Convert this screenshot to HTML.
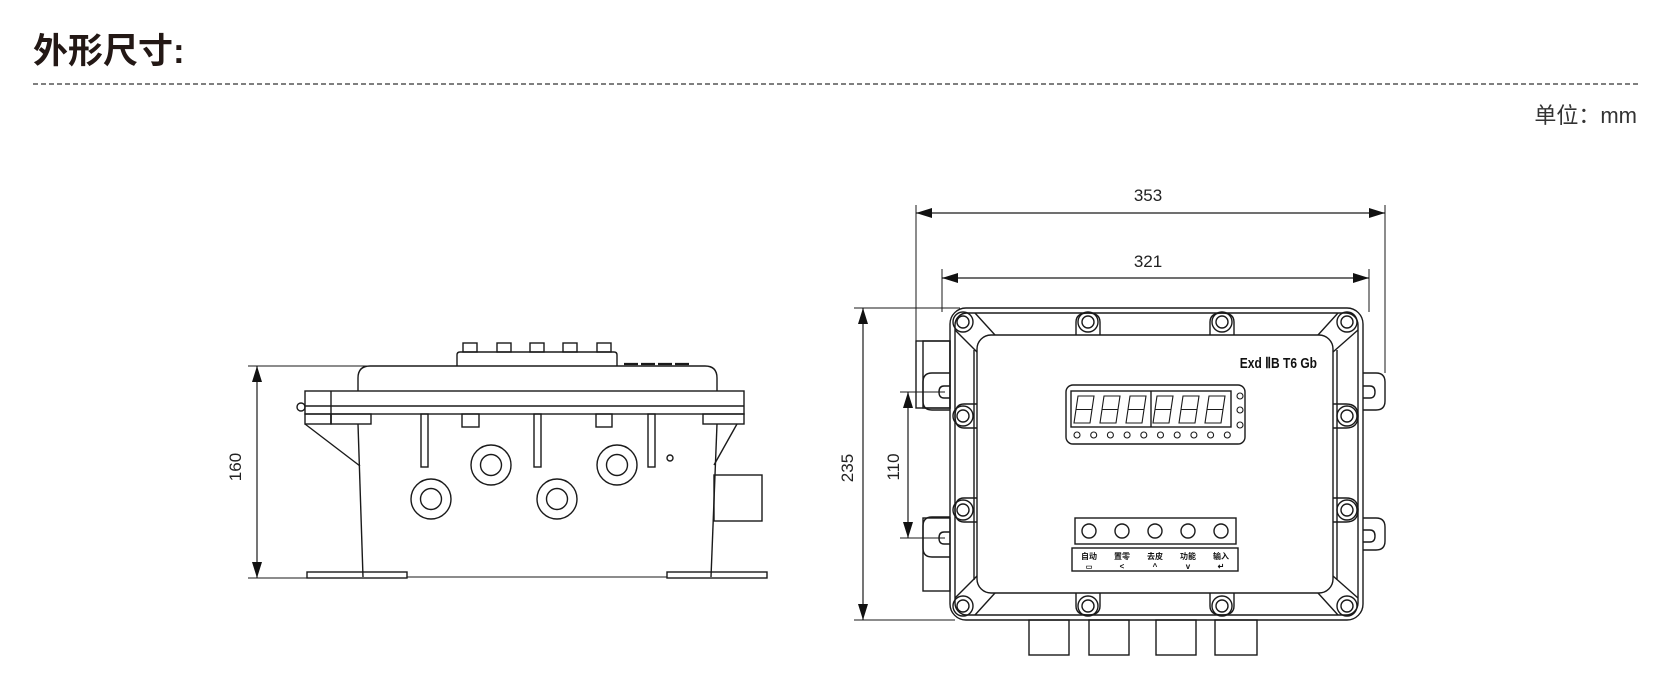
<!DOCTYPE html>
<html><head><meta charset="utf-8"><style>
html,body{margin:0;padding:0;background:#fff;}
svg{display:block;}
</style></head><body>
<svg width="1674" height="675" viewBox="0 0 1674 675" xmlns="http://www.w3.org/2000/svg">
<defs>
<marker id="ar" viewBox="0 0 16 10" refX="16" refY="5" markerWidth="16" markerHeight="10" markerUnits="userSpaceOnUse" orient="auto-start-reverse"><path d="M0,0 L16,5 L0,10 z" fill="#111"/></marker>
</defs>
<text x="33" y="63" font-family="'Liberation Sans','Noto Sans CJK SC',sans-serif" font-size="35" font-weight="bold" fill="#231815">外形尺寸:</text>
<line x1="33" y1="84" x2="1638" y2="84" stroke="#333" stroke-width="1.2" stroke-dasharray="5,3"/>
<text x="1637" y="123" text-anchor="end" font-family="'Liberation Sans','Noto Sans CJK SC',sans-serif" font-size="22" fill="#333">单位：mm</text>

<g fill="none" stroke="#1a1a1a" stroke-width="1.4">
<!-- side view dim 160 -->
<line x1="248" y1="366" x2="367" y2="366" stroke-width="1"/>
<line x1="248" y1="578" x2="307" y2="578" stroke-width="1"/>
<line x1="257" y1="366" x2="257" y2="578" stroke-width="1.2" marker-start="url(#ar)" marker-end="url(#ar)"/>
<!-- buttons -->
<rect x="463" y="343" width="14" height="9"/><rect x="497" y="343" width="14" height="9"/><rect x="530" y="343" width="14" height="9"/><rect x="563" y="343" width="14" height="9"/><rect x="597" y="343" width="14" height="9"/>
<path d="M457,366 V355 Q457,352 460,352 H614 Q617,352 617,355 V366"/>
<line x1="624" y1="364" x2="690" y2="364" stroke-width="2.2" stroke-dasharray="14,3"/>
<!-- lid -->
<path d="M358,391 V378 Q358,366 370,366 H705 Q717,366 717,378 V391"/>
<!-- flange -->
<rect x="305" y="391" width="439" height="23"/>
<line x1="305" y1="406" x2="744" y2="406"/>
<line x1="331" y1="391" x2="331" y2="424"/>
<rect x="305" y="414" width="26" height="10"/>
<rect x="331" y="414" width="40" height="10"/>
<rect x="703" y="414" width="41" height="10"/>
<circle cx="301" cy="407" r="4"/>
<line x1="305" y1="424" x2="360" y2="466"/>
<line x1="737" y1="424" x2="714" y2="465"/>
<line x1="358" y1="424" x2="363" y2="577"/>
<line x1="717" y1="424" x2="711" y2="577"/>
<rect x="421" y="414" width="7" height="53"/><rect x="534" y="414" width="7" height="53"/><rect x="648" y="414" width="7" height="53"/>
<rect x="462" y="414" width="17" height="13"/><rect x="596" y="414" width="16" height="13"/>
<circle cx="491" cy="465" r="20"/><circle cx="491" cy="465" r="10.5"/>
<circle cx="617" cy="465" r="20"/><circle cx="617" cy="465" r="10.5"/>
<circle cx="431" cy="499" r="20"/><circle cx="431" cy="499" r="10.5"/>
<circle cx="557" cy="499" r="20"/><circle cx="557" cy="499" r="10.5"/>
<circle cx="670" cy="458" r="3"/>
<rect x="714" y="475" width="48" height="46"/>
<rect x="307" y="572" width="100" height="6"/>
<rect x="667" y="572" width="100" height="6"/>
<line x1="407" y1="577" x2="667" y2="577" stroke-width="1"/>

<!-- front view dims -->
<line x1="916" y1="205" x2="916" y2="341" stroke-width="1"/>
<line x1="1385" y1="205" x2="1385" y2="373" stroke-width="1"/>
<line x1="916" y1="213" x2="1385" y2="213" stroke-width="1.2" marker-start="url(#ar)" marker-end="url(#ar)"/>
<line x1="942" y1="269" x2="942" y2="312" stroke-width="1"/>
<line x1="1369" y1="269" x2="1369" y2="312" stroke-width="1"/>
<line x1="942" y1="278" x2="1369" y2="278" stroke-width="1.2" marker-start="url(#ar)" marker-end="url(#ar)"/>
<line x1="854" y1="308" x2="960" y2="308" stroke-width="1"/>
<line x1="854" y1="620" x2="955" y2="620" stroke-width="1"/>
<line x1="863" y1="308" x2="863" y2="620" stroke-width="1.2" marker-start="url(#ar)" marker-end="url(#ar)"/>
<line x1="900" y1="392" x2="945" y2="392" stroke-width="1"/>
<line x1="900" y1="538" x2="945" y2="538" stroke-width="1"/>
<line x1="908" y1="392" x2="908" y2="538" stroke-width="1.2" marker-start="url(#ar)" marker-end="url(#ar)"/>

<!-- left gland box and ears -->
<rect x="916" y="341" width="34" height="67"/>
<rect x="923" y="341" width="27" height="67"/>
<rect x="923" y="518" width="27" height="73"/>
<path d="M950,373 H932 Q923,373 923,382 V401 Q923,410 932,410 H950"/>
<path d="M950,386 H944 Q939,386 939,392 Q939,398 944,398 H950"/>
<path d="M950,517 H932 Q923,517 923,526 V548 Q923,557 932,557 H950"/>
<path d="M950,532 H944 Q939,532 939,538 Q939,544 944,544 H950"/>
<!-- right ears -->
<path d="M1363,373 H1376 Q1385,373 1385,382 V401 Q1385,410 1376,410 H1363"/>
<path d="M1363,386 H1370 Q1375,386 1375,392 Q1375,398 1370,398 H1363"/>
<path d="M1363,518 H1376 Q1385,518 1385,527 V541 Q1385,550 1376,550 H1363"/>
<path d="M1363,530 H1370 Q1375,530 1375,536 Q1375,542 1370,542 H1363"/>

<!-- main box -->
<rect x="950" y="308" width="413" height="312" rx="16"/>
<rect x="955" y="313" width="403" height="302" rx="12"/>
<rect x="977" y="335" width="356" height="258" rx="14"/>
<line x1="974" y1="350" x2="974" y2="580"/>
<line x1="1337" y1="350" x2="1337" y2="580"/>
<!-- corner chamfers -->
<line x1="955" y1="330" x2="977" y2="352"/><line x1="975" y1="313" x2="995" y2="335"/>
<line x1="1358" y1="330" x2="1333" y2="352"/><line x1="1338" y1="313" x2="1318" y2="335"/>
<line x1="955" y1="598" x2="977" y2="576"/><line x1="975" y1="615" x2="995" y2="593"/>
<line x1="1358" y1="598" x2="1333" y2="576"/><line x1="1338" y1="615" x2="1318" y2="593"/>
<!-- bosses -->
<path d="M1076,335 V322 Q1076,313 1088,313 Q1100,313 1100,322 V335"/>
<path d="M1210,335 V322 Q1210,313 1222,313 Q1234,313 1234,322 V335"/>
<path d="M1076,593 V606 Q1076,615 1088,615 Q1100,615 1100,606 V593"/>
<path d="M1210,593 V606 Q1210,615 1222,615 Q1234,615 1234,606 V593"/>
<path d="M977,404 H964 Q955,404 955,416 Q955,428 964,428 H977"/>
<path d="M977,498 H964 Q955,498 955,510 Q955,522 964,522 H977"/>
<path d="M1333,404 H1346 Q1358,404 1358,416 Q1358,428 1346,428 H1333"/>
<path d="M1333,498 H1346 Q1358,498 1358,510 Q1358,522 1346,522 H1333"/>
<!-- bolts -->
<g>
<circle cx="963" cy="322" r="10"/><circle cx="963" cy="322" r="6"/>
<circle cx="1088" cy="322" r="10"/><circle cx="1088" cy="322" r="6"/>
<circle cx="1222" cy="322" r="10"/><circle cx="1222" cy="322" r="6"/>
<circle cx="1347" cy="322" r="10"/><circle cx="1347" cy="322" r="6"/>
<circle cx="963" cy="606" r="10"/><circle cx="963" cy="606" r="6"/>
<circle cx="1088" cy="606" r="10"/><circle cx="1088" cy="606" r="6"/>
<circle cx="1222" cy="606" r="10"/><circle cx="1222" cy="606" r="6"/>
<circle cx="1347" cy="606" r="10"/><circle cx="1347" cy="606" r="6"/>
<circle cx="963" cy="416" r="10"/><circle cx="963" cy="416" r="6"/>
<circle cx="963" cy="510" r="10"/><circle cx="963" cy="510" r="6"/>
<circle cx="1347" cy="416" r="10"/><circle cx="1347" cy="416" r="6"/>
<circle cx="1347" cy="510" r="10"/><circle cx="1347" cy="510" r="6"/>
</g>
<!-- bottom glands -->
<rect x="1029" y="620" width="40" height="35"/>
<rect x="1089" y="620" width="40" height="35"/>
<rect x="1156" y="620" width="40" height="35"/>
<rect x="1215" y="620" width="42" height="35"/>

<!-- display -->
<rect x="1066" y="385" width="179" height="59" rx="7"/>
<rect x="1071" y="391" width="160" height="36"/>
<line x1="1151" y1="391" x2="1151" y2="427"/>
<g stroke-width="1.1">
<path d="M1078,396 H1094 L1090,423 H1074 Z M1076,409.5 H1092"/>
<path d="M1104,396 H1120 L1116,423 H1100 Z M1102,409.5 H1118"/>
<path d="M1130,396 H1146 L1142,423 H1126 Z M1128,409.5 H1144"/>
<path d="M1157,396 H1173 L1169,423 H1153 Z M1155,409.5 H1171"/>
<path d="M1183,396 H1199 L1195,423 H1179 Z M1181,409.5 H1197"/>
<path d="M1209,396 H1225 L1221,423 H1205 Z M1207,409.5 H1223"/>
</g>
<g stroke-width="1.1">
<circle cx="1077" cy="435" r="3"/><circle cx="1093.7" cy="435" r="3"/><circle cx="1110.4" cy="435" r="3"/><circle cx="1127.1" cy="435" r="3"/><circle cx="1143.8" cy="435" r="3"/><circle cx="1160.5" cy="435" r="3"/><circle cx="1177.2" cy="435" r="3"/><circle cx="1193.9" cy="435" r="3"/><circle cx="1210.6" cy="435" r="3"/><circle cx="1227.3" cy="435" r="3"/>
<circle cx="1240" cy="396" r="3"/><circle cx="1240" cy="410" r="3"/><circle cx="1240" cy="425" r="3"/>
</g>
<!-- keys -->
<rect x="1075" y="518" width="161" height="26"/>
<circle cx="1089" cy="531" r="7"/><circle cx="1122" cy="531" r="7"/><circle cx="1155" cy="531" r="7"/><circle cx="1188" cy="531" r="7"/><circle cx="1221" cy="531" r="7"/>
<rect x="1072" y="548" width="166" height="23"/>
</g>
<g font-family="'Liberation Sans','Noto Sans CJK SC',sans-serif" font-size="8" font-weight="bold" fill="#111" text-anchor="middle">
<text x="1089" y="559">自动</text><text x="1122" y="559">置零</text><text x="1155" y="559">去皮</text><text x="1188" y="559">功能</text><text x="1221" y="559">输入</text>
<text x="1089" y="569" font-size="7">▭</text><text x="1122" y="569">&lt;</text><text x="1155" y="569">^</text><text x="1188" y="569">v</text><text x="1221" y="569">↵</text>
</g>
<text x="0" y="0" transform="translate(1317,368) scale(0.8,1)" text-anchor="end" font-family="'Liberation Sans',sans-serif" font-size="15" font-weight="bold" fill="#111">Exd ⅡB T6  Gb</text>

<g font-family="'Liberation Sans',sans-serif" font-size="17" fill="#222">
<text x="1148" y="201" text-anchor="middle">353</text>
<text x="1148" y="267" text-anchor="middle">321</text>
<text transform="translate(241,467) rotate(-90)" text-anchor="middle">160</text>
<text transform="translate(853,468) rotate(-90)" text-anchor="middle">235</text>
<text transform="translate(899,467) rotate(-90)" text-anchor="middle">110</text>
</g>
</svg>
</body></html>
